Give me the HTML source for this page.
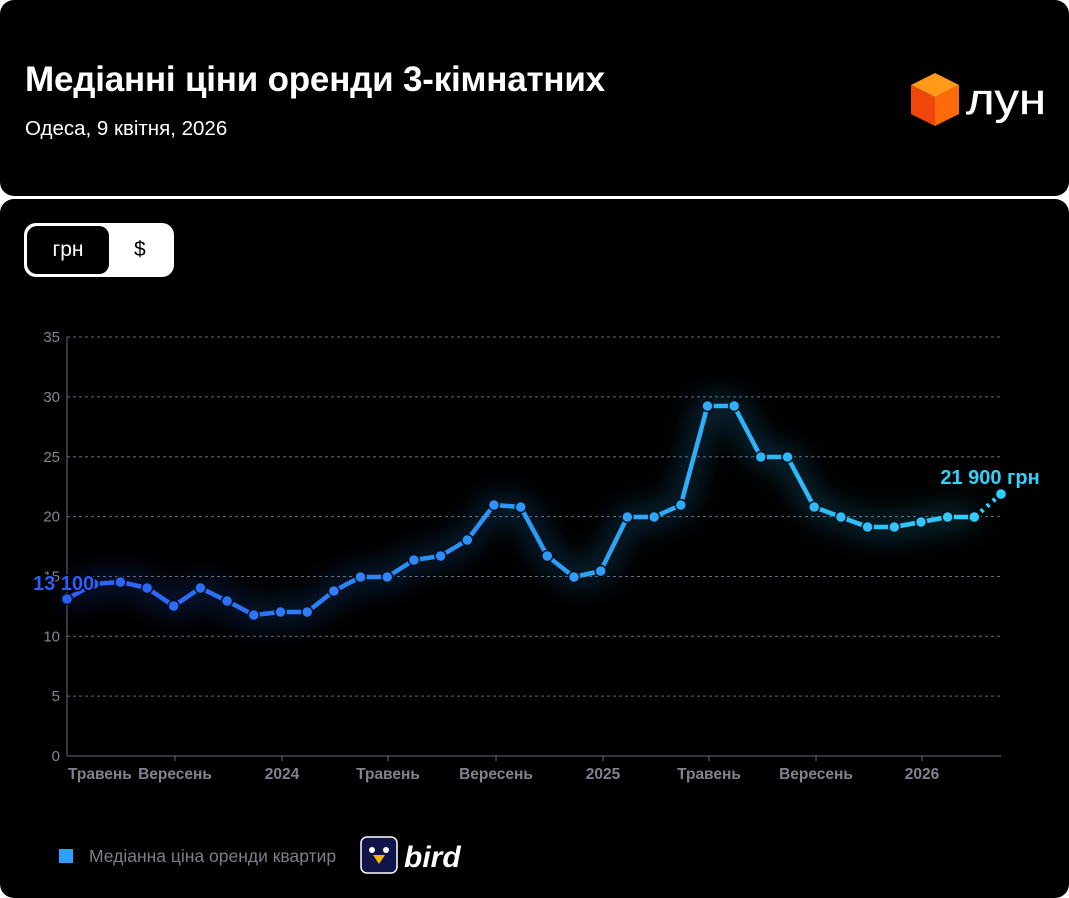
<!DOCTYPE html>
<html><head><meta charset="utf-8"><style>
html,body{margin:0;padding:0;background:#fff;width:1069px;height:898px;overflow:hidden;font-family:"Liberation Sans",sans-serif}
.card{position:absolute;left:0;width:1069px;background:#000;border-radius:14px}
#h{top:0;height:196px}
#b{top:199px;height:699px}
h1{position:absolute;left:25px;top:60px;margin:0;color:#fff;font-size:35px;font-weight:bold;letter-spacing:-0.2px}
.sub{position:absolute;left:25px;top:117px;color:#fff;font-size:20.5px}
.tog{position:absolute;left:24px;top:24px;width:150px;height:54px;background:#fff;border-radius:12px}
.tog .a{position:absolute;left:3px;top:3px;width:82px;height:48px;background:#000;border-radius:10px;color:#fff;font-size:21px;text-align:center;line-height:48px}
.tog .d{position:absolute;left:110px;top:0;line-height:54px;font-size:21px;color:#000}
</style></head><body>
<div class="card" id="h">
<h1>Медіанні ціни оренди 3-кімнатних</h1>
<div class="sub">Одеса, 9 квітня, 2026</div>
<svg style="position:absolute;left:908px;top:70px" width="150" height="60">
<polygon points="27,3 51,15 27,27 3,15" fill="#ff9a1a"/>
<polygon points="3,15 27,27 27,56 3,44" fill="#f0460c"/>
<polygon points="51,15 27,27 27,56 51,44" fill="#ff6a0a"/>
<text x="58" y="44" fill="#fff" font-size="44" font-family="Liberation Sans" stroke="#fff" stroke-width="0.3" textLength="80" lengthAdjust="spacingAndGlyphs">лун</text>
</svg>
</div>
<div class="card" id="b">
<div class="tog"><div class="a">грн</div><div class="d">$</div></div>
</div>
<svg id="c" style="position:absolute;left:0;top:0" width="1069" height="898"></svg>
<script>
var ys=[599,584,582,588,606,588,601,615,612,612,591,577,577,560,556,540,505,507,556,577,571,517,517,505,406,406,457,457,507,517,527,527,522,517,517,494];
var s='<defs><linearGradient id="g" gradientUnits="userSpaceOnUse" x1="67" x2="1001" y1="0" y2="0"><stop offset="0" stop-color="#2d5dff"/><stop offset="0.5" stop-color="#2b9cf5"/><stop offset="1" stop-color="#2fd2ff"/></linearGradient><filter id="gl" x="-20%" y="-50%" width="140%" height="200%"><feGaussianBlur stdDeviation="14"/></filter></defs>';
for(var v=0;v<=35;v+=5){var y=756-v*11.97;
 if(v>0)s+='<line x1="67" x2="1001" y1="'+y+'" y2="'+y+'" stroke="#6a6d78" stroke-dasharray="3,3" stroke-width="1"/>';
 s+='<text x="60" y="'+(y+5)+'" text-anchor="end" fill="#85878f" font-size="15">'+v+'</text>';}
s+='<line x1="67" x2="67" y1="337" y2="756" stroke="#6a6d78"/><line x1="67" x2="1001" y1="756" y2="756" stroke="#6a6d78"/>';
var tk=[[175,'Вересень'],[282,'2024'],[388,'Травень'],[496,'Вересень'],[603,'2025'],[709,'Травень'],[816,'Вересень'],[922,'2026']];
s+='<text x="68" y="779" fill="#80838f" font-size="15.5" font-weight="bold">Травень</text>';
tk.forEach(function(t){s+='<line x1="'+t[0]+'" x2="'+t[0]+'" y1="756" y2="761" stroke="#6a6d78"/><text x="'+t[0]+'" y="779" text-anchor="middle" fill="#80838f" font-size="15.5" font-weight="bold">'+t[1]+'</text>';});
var p='';for(var i=0;i<35;i++){p+=(i?'L':'M')+(67+i*26.686).toFixed(1)+','+ys[i];}
s+='<path d="'+p+'" stroke="url(#g)" stroke-width="14" fill="none" opacity="0.35" filter="url(#gl)"/>';
s+='<path d="'+p+'" stroke="url(#g)" stroke-width="4.5" fill="none" stroke-linejoin="round"/>';
s+='<line x1="975" y1="517" x2="1001" y2="494" stroke="#2fd2ff" stroke-width="4.5" stroke-dasharray="3,5"/>';
for(var i=0;i<36;i++){var x=67+i*26.686;var f=i/35;var r=Math.round(45+f*2),gg=Math.round(93+f*117),b=255;
 s+='<circle cx="'+x.toFixed(1)+'" cy="'+ys[i]+'" r="5.5" fill="rgb('+r+','+gg+','+b+')" stroke="#061018" stroke-width="1.5"/>';}
s+='<text x="33" y="590" fill="#2d5dff" font-size="20" font-weight="bold" stroke="#000" stroke-width="3" paint-order="stroke">13 100</text>';
s+='<text x="990" y="484" text-anchor="middle" fill="#2fd2ff" font-size="20" font-weight="bold" stroke="#000" stroke-width="3" paint-order="stroke">21 900 грн</text>';
s+='<rect x="59" y="849" width="14" height="14" fill="#2ea0ff"/><text x="89" y="862" fill="#7c7f8b" font-size="17.5">Медіанна ціна оренди квартир</text>';
s+='<rect x="361" y="837" width="36" height="36" rx="6" fill="#10144a" stroke="#fff" stroke-width="1.5"/><circle cx="372" cy="850" r="3" fill="#fff"/><circle cx="386" cy="850" r="3" fill="#fff"/><polygon points="373,855 385,855 379,864" fill="#f5b400"/>';
s+='<text x="404" y="867" fill="#fff" font-size="30" font-weight="bold" font-style="italic">bird</text>';
document.getElementById('c').innerHTML=s;
</script>
</body></html>
